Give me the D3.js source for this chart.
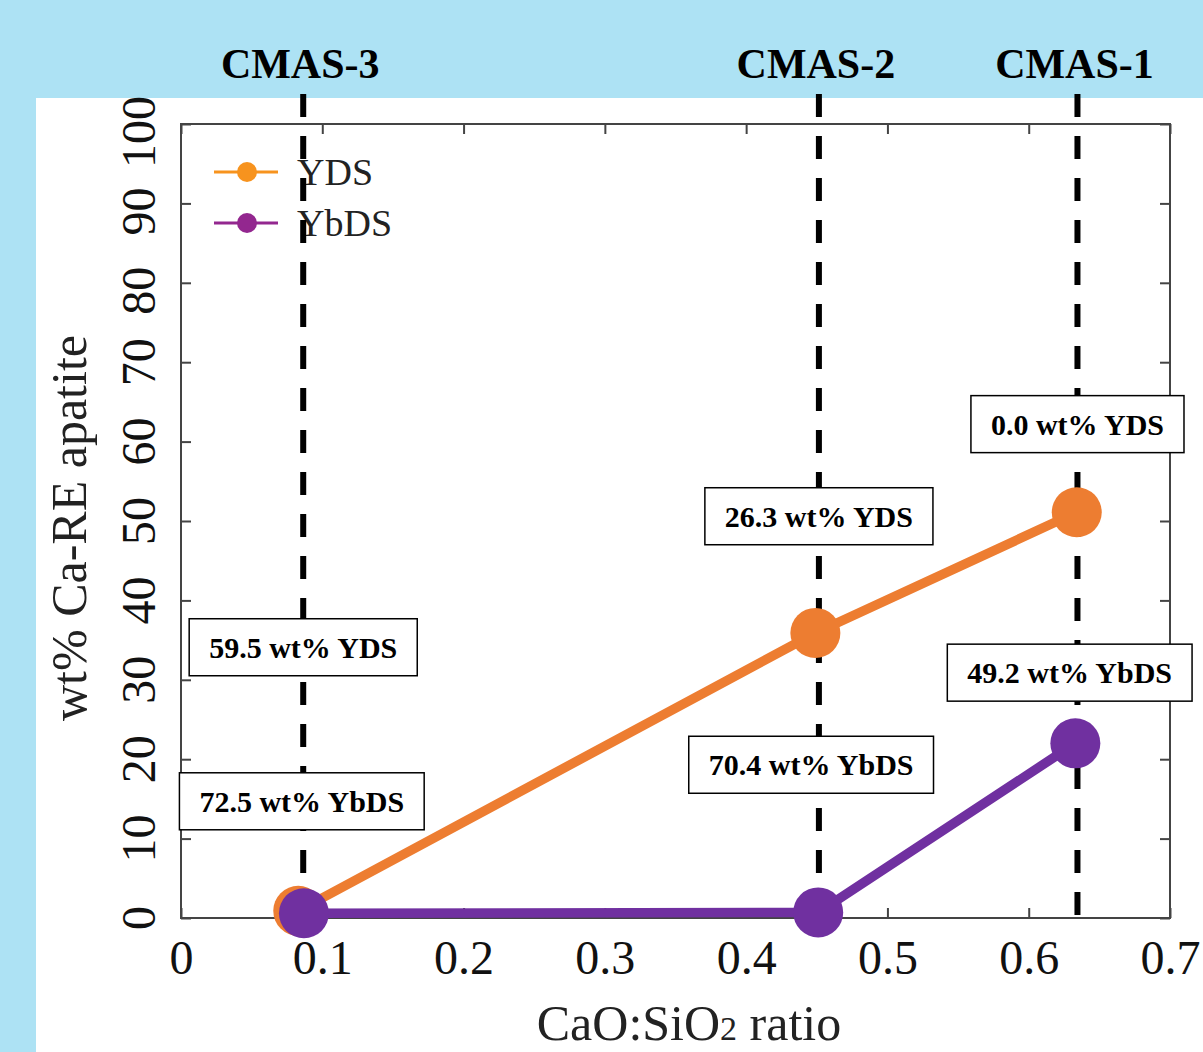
<!DOCTYPE html>
<html>
<head>
<meta charset="utf-8">
<script src="https://cdn.jsdelivr.net/npm/d3@7"></script>
<style>
  html, body { margin: 0; padding: 0; background: #ADE2F4; }
  svg { display: block; }
</style>
</head>
<body>
<svg id="chart" width="1203" height="1052"></svg>
<script>
// ---------------- data ----------------
const xTicks = [0, 0.1, 0.2, 0.3, 0.4, 0.5, 0.6, 0.7];
const xTickLabels = ["0", "0.1", "0.2", "0.3", "0.4", "0.5", "0.6", "0.7"];
const yTicks = [0, 10, 20, 30, 40, 50, 60, 70, 80, 90, 100];
const yTickLabels = ["0", "10", "20", "30", "40", "50", "60", "70", "80", "90", "100"];

const seriesNames = ["YDS", "YbDS"];
const ydsX = [0.083, 0.449, 0.634];
const ydsY = [0.9, 35.9, 51.1];
const ybdsX = [0.087, 0.451, 0.633];
const ybdsY = [0.6, 0.7, 22.0];

const cmasNames = ["CMAS-3", "CMAS-2", "CMAS-1"];
const cmasX = [0.0865, 0.4515, 0.6345];

const annoText = ["0.0 wt% YDS", "26.3 wt% YDS", "59.5 wt% YDS", "72.5 wt% YbDS", "70.4 wt% YbDS", "49.2 wt% YbDS"];
const annoX = [0.6345, 0.4515, 0.0865, 0.0855, 0.446, 0.629];
const annoY = [62.2, 50.6, 34.1, 14.7, 19.3, 30.9];

const xTitle = "CaO:SiO";
const xTitleSub = "2";
const xTitleTail = " ratio";
const yTitle = "wt% Ca-RE apatite";

// ---------------- drawing ----------------
const svg = d3.select("#chart");
const FONT = "'Liberation Serif', 'DejaVu Serif', serif";
const lineColors = ["#ED7D31", "#7030A0"];
const legendColors = ["#F7931E", "#93278F"];

// white panel
svg.append("rect").attr("x", 36).attr("y", 98).attr("width", 1203 - 36).attr("height", 1052 - 98).attr("fill", "#fff");

const x = d3.scaleLinear().domain([0, 0.7]).range([181, 1170]);
const y = d3.scaleLinear().domain([0, 100]).range([918, 124]);

const frameColor = "#444";

// axes (ticks inward on all four sides)
const gB = svg.append("g").attr("transform", `translate(0,${y(0)})`)
  .call(d3.axisBottom(x).tickValues(xTicks).tickSize(-10).tickPadding(22)
    .tickFormat((d, i) => xTickLabels[i]));
const gT = svg.append("g").attr("transform", `translate(0,${y(100)})`)
  .call(d3.axisTop(x).tickValues(xTicks).tickSize(-10).tickFormat(""));
const gL = svg.append("g").attr("transform", `translate(${x(0)},0)`)
  .call(d3.axisLeft(y).tickValues(yTicks).tickSize(-10).tickFormat(""));
const gR = svg.append("g").attr("transform", `translate(${x(0.7)},0)`)
  .call(d3.axisRight(y).tickValues(yTicks).tickSize(-10).tickFormat(""));

[gB, gT, gL, gR].forEach(g => {
  g.select(".domain").remove();
  g.selectAll(".tick line").attr("stroke", frameColor).attr("stroke-width", 2);
});
gB.selectAll(".tick text").attr("font-family", FONT).attr("font-size", 48).attr("fill", "#111");

// frame
svg.append("rect")
  .attr("x", x(0)).attr("y", y(100))
  .attr("width", x(0.7) - x(0)).attr("height", y(0) - y(100))
  .attr("fill", "none").attr("stroke", frameColor).attr("stroke-width", 2);

// rotated y tick labels
svg.append("g").selectAll("text").data(yTicks).join("text")
  .attr("transform", d => `translate(155,${y(d) + (d >= 80 ? 8 : 0)}) rotate(-90)`)
  .attr("text-anchor", "middle")
  .attr("font-family", FONT).attr("font-size", 48).attr("fill", "#111")
  .text((d, i) => yTickLabels[i]);

// y title
svg.append("text")
  .attr("transform", `translate(86,528) rotate(-90)`)
  .attr("text-anchor", "middle")
  .attr("font-family", FONT).attr("font-size", 50).attr("fill", "#222")
  .text(yTitle);

// x title
const xt = svg.append("text")
  .attr("x", 689).attr("y", 1040)
  .attr("text-anchor", "middle")
  .attr("font-family", FONT).attr("font-size", 50).attr("fill", "#222");
xt.append("tspan").text(xTitle);
xt.append("tspan").attr("font-size", 34).text(xTitleSub);
xt.append("tspan").text(xTitleTail);

// legend
const legend = svg.append("g");
seriesNames.forEach((name, i) => {
  const ly = 172 + i * 51;
  legend.append("line").attr("x1", 214).attr("x2", 278).attr("y1", ly).attr("y2", ly)
    .attr("stroke", legendColors[i]).attr("stroke-width", 3);
  legend.append("circle").attr("cx", 247).attr("cy", ly).attr("r", 10).attr("fill", legendColors[i]);
  legend.append("text").attr("x", 297).attr("y", ly + 13)
    .attr("font-family", FONT).attr("font-size", 38).attr("fill", "#222").text(name);
});

// dashed CMAS lines
svg.append("g").selectAll("line").data(cmasX).join("line")
  .attr("x1", d => x(d)).attr("x2", d => x(d))
  .attr("y1", 94).attr("y2", y(0))
  .attr("stroke", "#000").attr("stroke-width", 6).attr("stroke-dasharray", "23,19");

// CMAS labels
svg.append("g").selectAll("text").data(cmasNames).join("text")
  .attr("x", (d, i) => x(cmasX[i]) - 3).attr("y", 78)
  .attr("text-anchor", "middle")
  .attr("font-family", FONT).attr("font-weight", "bold").attr("font-size", 42).attr("fill", "#000")
  .text(d => d);

// series
const seriesX = [ydsX, ybdsX];
const seriesY = [ydsY, ybdsY];
const lineGen = d3.line().x(d => x(d[0])).y(d => y(d[1]));
seriesNames.forEach((name, s) => {
  const pts = seriesX[s].map((v, i) => [v, seriesY[s][i]]);
  svg.append("path").datum(pts).attr("d", lineGen)
    .attr("fill", "none").attr("stroke", lineColors[s]).attr("stroke-width", 9.5);
  svg.append("g").selectAll("circle").data(pts).join("circle")
    .attr("cx", d => x(d[0])).attr("cy", d => y(d[1])).attr("r", 25)
    .attr("fill", lineColors[s]);
});

// annotation boxes
const annoG = svg.append("g");
annoText.forEach((t, i) => {
  const g = annoG.append("g").attr("transform", `translate(${x(annoX[i])},${y(annoY[i])})`);
  const rect = g.append("rect").attr("fill", "#fff").attr("stroke", "#000").attr("stroke-width", 1.5);
  const txt = g.append("text").attr("text-anchor", "middle").attr("y", 10.5)
    .attr("font-family", FONT).attr("font-weight", "bold").attr("font-size", 30).attr("fill", "#000")
    .text(t);
  const w = txt.node().getComputedTextLength() + 40;
  const h = 57;
  rect.attr("x", -w / 2).attr("y", -h / 2).attr("width", w).attr("height", h);
});
</script>
</body>
</html>
